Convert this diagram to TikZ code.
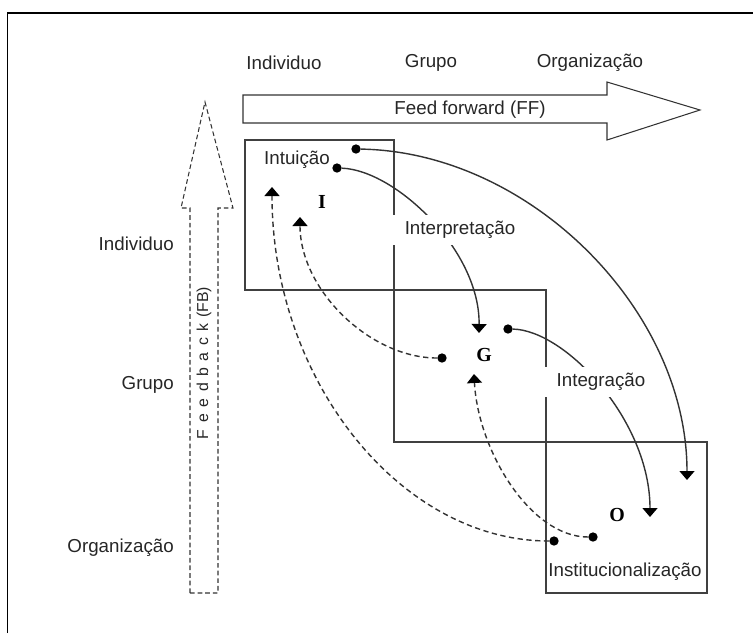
\documentclass[tikz,border=0pt]{standalone}
\usepackage{fontspec}
\setmainfont{Liberation Sans}
\newfontfamily\lvlfont{Liberation Serif}
\usetikzlibrary{arrows.meta}

\tikzset{
  frameline/.style={line width=1.5pt, draw=black},
  box/.style={line width=0.9pt, draw=black!75},
  bigarrow/.style={line width=0.9pt, draw=black!80},
  flow/.style={line width=1.2pt, draw=black!80, -{Triangle[width=0.45cm,length=0.27cm,fill=black,color=black]}},
  back/.style={flow, dash pattern=on 4.5pt off 3pt},
  dot/.style={circle, fill=black, inner sep=0pt, minimum size=0.28cm},
  lbl/.style={text=black!85, font=\fontsize{16}{19}\selectfont, inner sep=0pt},
  gap/.style={lbl, fill=white, inner xsep=0.4cm, inner ysep=0.2cm},
  lvl/.style={font=\lvlfont\bfseries\fontsize{17}{20}\selectfont, inner sep=0pt}
}

\begin{document}
\begin{tikzpicture}[x=0.03cm, y=-0.03cm]
            \useasboundingbox (0,0) rectangle (753,633);
            {
            % Outer frame, cut at right and bottom
            \draw [frameline] (7.5,633) -- (7.5,13) -- (753,13);%

            % Level names on top
            \node [lbl] (topI) at (284,63) {Individuo};%
            \node [lbl] (topG) at (431,63) {Grupo};%
            \node [lbl] (topO) at (590,63) {Organização};%

            % Level names on the left
            \node [lbl, anchor=east] (leftI) at (174,244) {Individuo};%
            \node [lbl, anchor=east] (leftG) at (174,385) {Grupo};%
            \node [lbl, anchor=east] (leftO) at (174,548) {Organização};%

            % Drawing feed forward arrow
            \draw [bigarrow] (243,95) -- (607,95) -- (607,82) -- (700,110) -- (607,140) -- (607,123) -- (243,123) -- cycle;%
            \node [lbl] (ff) at (470,110) {Feed forward (FF)};%

            % Drawing feedback arrow
            \draw [bigarrow, dash pattern=on 4pt off 2.5pt] (190,593) -- (190,208) -- (181,208) -- (205,102) -- (233,208) -- (218,208) -- (218,593) -- cycle;%
            \node [lbl, rotate=90, font=\fontsize{13.5}{16}\selectfont] (fb) at (204,363) {{\addfontfeature{LetterSpace=42}Feedback}\hspace{0.35em}(FB)};%

            % Drawing boxes I, G, O
            \draw [box] (245,140) rectangle (394,290);%
            \draw [box] (394,290) rectangle (546,442);%
            \draw [box] (546,442) rectangle (707,593);%

            % Marking start points by dots
            \node [dot] (intA) at (356,149) {};%
            \node [dot] (intB) at (337,168) {};%
            \node [dot] (grpA) at (508,329) {};%
            \node [dot] (grpB) at (442,358) {};%
            \node [dot] (insA) at (554,541) {};%
            \node [dot] (insB) at (593,537) {};%

            % Arrow ends
            \coordinate (toO1) at (687,480);%
            \coordinate (toG1) at (479,333);%
            \coordinate (toO2) at (650,517);%
            \coordinate (toI1) at (300,217);%
            \coordinate (toG2) at (474,374);%
            \coordinate (toI2) at (272,187);%

            % Drawing feed forward flows
            \draw [flow] (intA) .. controls (530,152) and (687,310) .. (toO1);%
            \draw [flow] (intB) .. controls (395,170) and (480,250) .. (toG1);%
            \draw [flow] (grpA) .. controls (565,330) and (650,420) .. (toO2);%

            % Drawing feedback flows
            \draw [back] (grpB) .. controls (370,358) and (300,290) .. (toI1);%
            \draw [back] (insB) .. controls (530,537) and (478,450) .. (toG2);%
            \draw [back] (insA) .. controls (400,541) and (272,380) .. (toI2);%

            % Process names
            \node [lbl] (intu) at (297,160) {Intuição};%
            \node [gap] (interp) at (460,230) {Interpretação};%
            \node [gap] (integ) at (601,382) {Integração};%
            \node [lbl] (inst) at (625,572) {Institucionalização};%

            % Level letters
            \node [lvl] (lvlI) at (322,202) {I};%
            \node [lvl] (lvlG) at (484,355) {G};%
            \node [lvl] (lvlO) at (617,515) {O};%
            }
\end{tikzpicture}
\end{document}
